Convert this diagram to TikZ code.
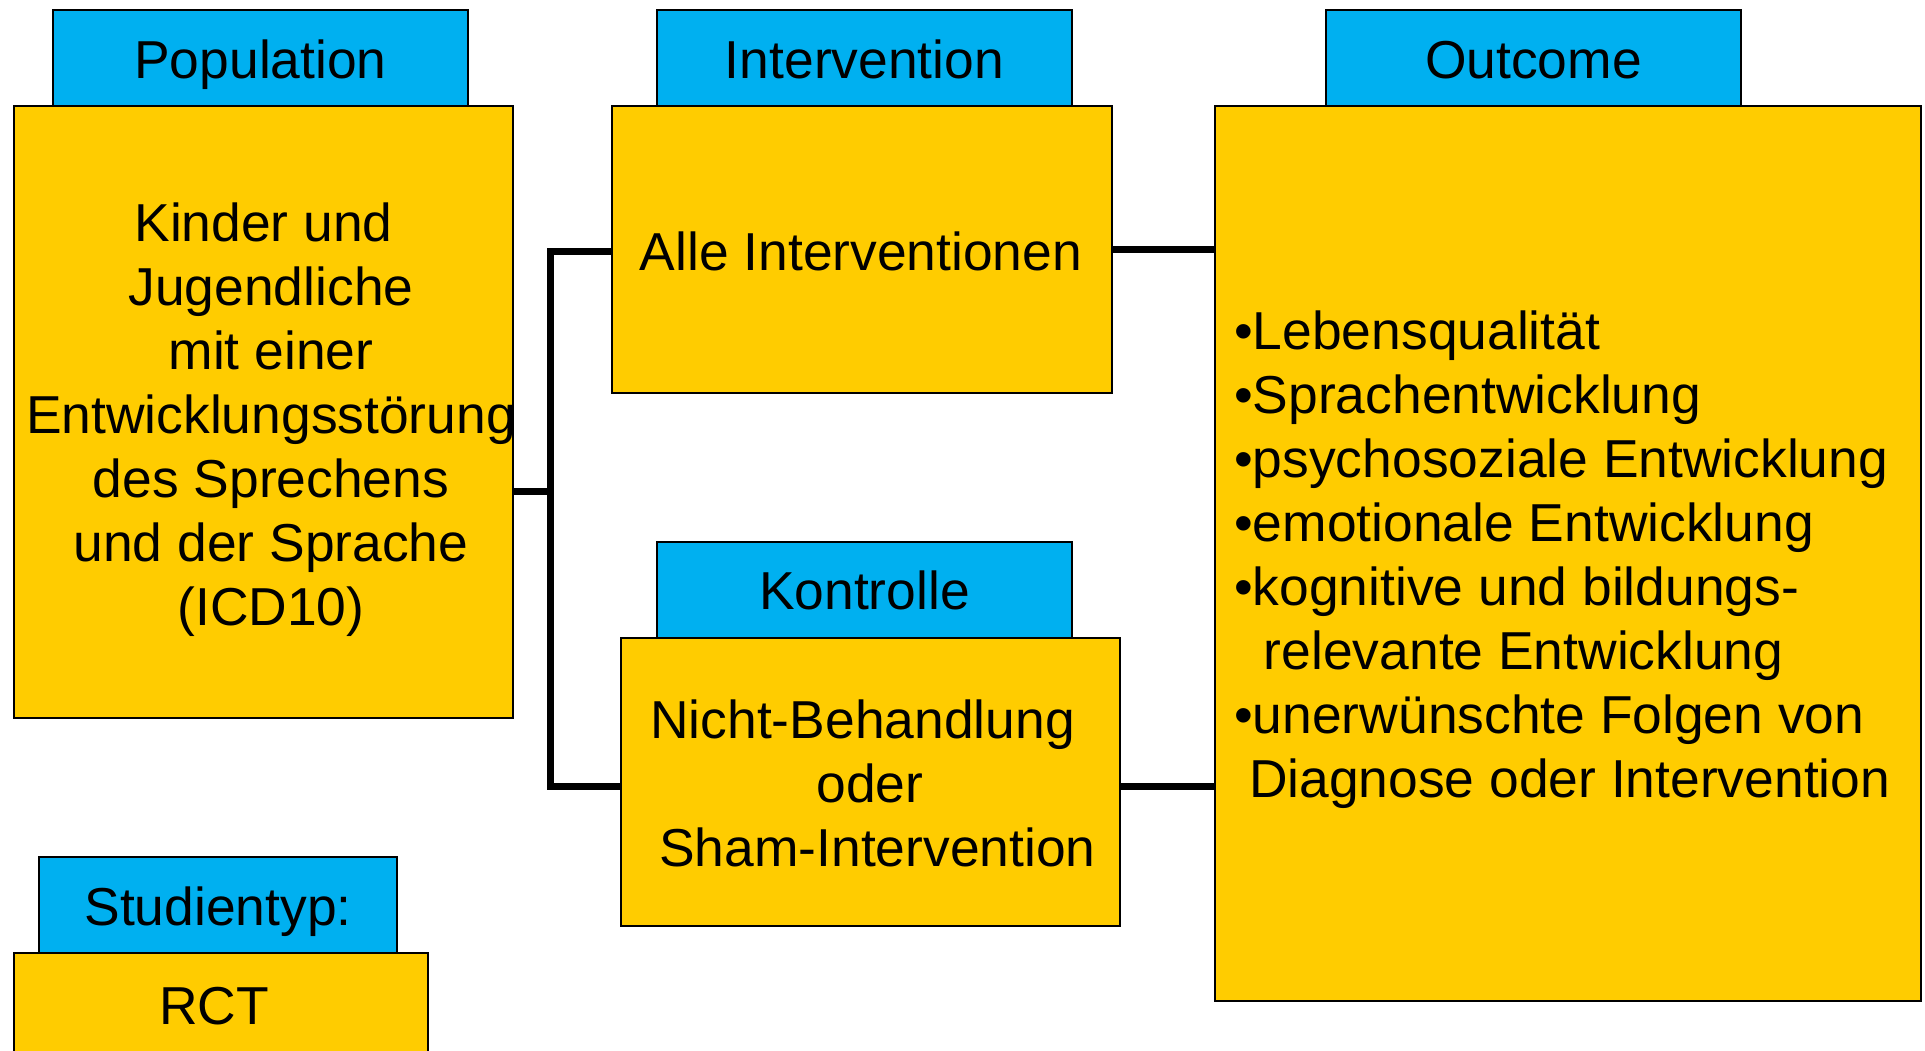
\documentclass[tikz,border=0pt]{standalone}
\usepackage{fontspec}
\setmainfont{Liberation Sans}
\definecolor{tabblue}{HTML}{00B0F0}
\definecolor{panelyellow}{HTML}{FFCC00}
\tikzset{
  big/.style={font=\fontsize{53.4}{64}\selectfont},
  tab/.style={draw=black, line width=2pt, fill=tabblue, inner sep=0pt,
    text height=40pt, text depth=0pt, big},
  panel/.style={draw=black, line width=2pt, fill=panelyellow, inner sep=0pt},
  txt/.style={inner sep=0pt, big},
  link/.style={line width=7pt, line join=miter}
}
\begin{document}
\begin{tikzpicture}[x=1pt,y=-1pt]
\useasboundingbox (0,0) rectangle (1925,1050);
\fill[white] (0,0) rectangle (1925,1050);
\clip (0,0) rectangle (1925,1050);

% header tabs
\node[tab, minimum width=415pt, minimum height=96pt] (poptab) at (260.5,58) {Population};
\node[tab, minimum width=415pt, minimum height=96pt] (inttab) at (864.5,58) {Intervention};
\node[tab, minimum width=415pt, minimum height=96pt] (outtab) at (1533.5,58) {Outcome};
\node[tab, minimum width=415pt, minimum height=96pt] (kontab) at (864.5,589.5) {Kontrolle};
\node[tab, minimum width=358pt, minimum height=96pt] (typtab) at (218,905) {Studientyp:};

% junction points of the bracket
\coordinate (jt) at (550,251.5);
\coordinate (jm) at (550,491);
\coordinate (jb) at (550,786);

% panels
\node[panel, minimum width=499.5pt, minimum height=612pt] (pop) at (263.25,412) {};
\node[panel, minimum width=500pt, minimum height=287pt] (int) at (861.5,249.5) {};
\node[panel, minimum width=706pt, minimum height=895pt] (out) at (1568,553.5) {};
\node[panel, minimum width=499pt, minimum height=288pt] (kon) at (870.5,781.5) {};
\node[panel, minimum width=414.5pt, minimum height=109pt] (rct) at (220.75,1007.5) {};

% connectors
\draw[link] (pop.east |- jm) -- (jm);
\draw[link] (int.west |- jt) -- (jt) -- (jb) -- (kon.west |- jb);
\draw[link] (int.east) -- (out.west |- int.east);
\draw[link] (kon.east |- jb) -- (out.west |- jb);

% panel texts
\node[txt, align=center] (poptext) at (271,419.5)
  {Kinder und\hspace*{0.278em}\\Jugendliche\\mit einer\\Entwicklungsstörung\\des Sprechens\\und der Sprache\\(ICD10)};
\node[txt] (inttext) at (861,251) {Alle Interventionen};
\node[txt, align=center] (kontext) at (870,783)
  {Nicht-Behandlung\hspace*{0.278em}\\oder\\\hspace*{0.278em}Sham-Intervention};
\node[txt, align=left, anchor=west] (outtext) at (1234,560)
  {•Lebensqualität\\•Sprachentwicklung\\•psychosoziale Entwicklung\\•emotionale Entwicklung\\•kognitive und bildungs-\\\hspace*{0.556em}relevante Entwicklung\\•unerwünschte Folgen von\\\hspace*{0.278em}Diagnose oder Intervention};
\node[txt] (rcttext) at (214,1006) {RCT};
\end{tikzpicture}
\end{document}
